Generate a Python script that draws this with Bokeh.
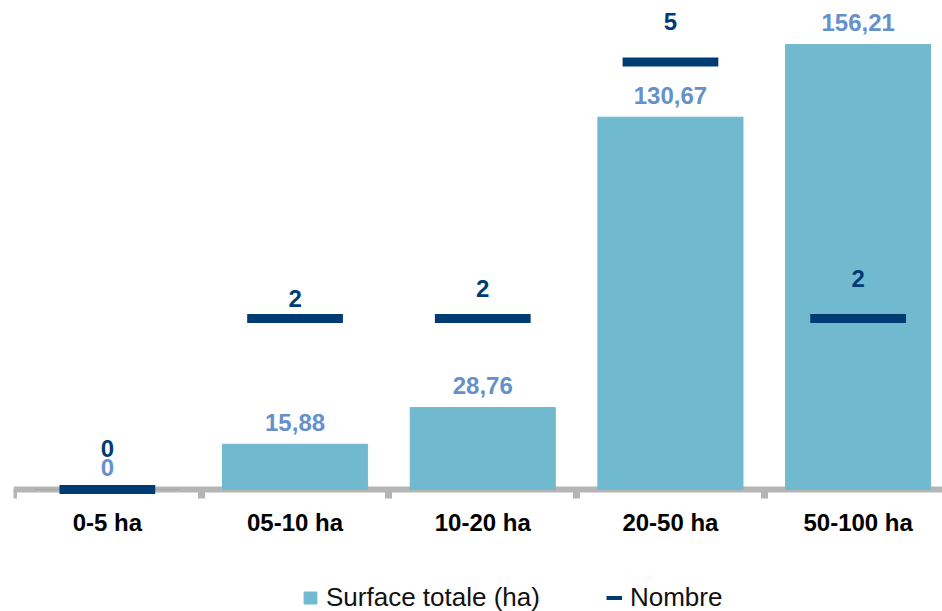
from bokeh.plotting import figure
from bokeh.models import (Range1d, FixedTicker, Legend, LegendItem, ColumnDataSource,
                          LinearAxis)
from bokeh.core.properties import value
from bokeh.embed import file_html
from bokeh.resources import INLINE

# ---- data ----
categories = ["0-5 ha", "05-10 ha", "10-20 ha", "20-50 ha", "50-100 ha"]
surface = [0, 15.88, 28.76, 130.67, 156.21]
surface_labels = ["0", "15,88", "28,76", "130,67", "156,21"]
nombre = [0, 2, 2, 5, 2]
nombre_labels = ["0", "2", "2", "5", "2"]
# label placement (pixels above the marker), as placed in the original
nombre_label_offsets = [32, 11.5, 21.5, 31.5, 31.5]

BAR = "#71b9cf"
BAR_TXT = "#6690cc"
NAVY = "#003b73"
AXIS = "#b5b5b5"
FONT = "Liberation Sans"
TXT_SHIFT = 9  # baseline compensation

W, H = 942, 611
ZERO_Y = 489          # pixel row of the zero line
PX_CAT = 187.7
PX_SURF = 2.849
PX_NB = 85.5
LEFT = 13

xs = [i + 0.5 for i in range(len(categories))]

p = figure(width=W, height=H, output_backend="svg", toolbar_location=None,
           x_range=Range1d(0, (W - LEFT) / PX_CAT),
           y_range=Range1d(-(H - ZERO_Y) / PX_SURF, ZERO_Y / PX_SURF),
           min_border_left=LEFT, min_border_right=0, min_border_top=0, min_border_bottom=0,
           x_axis_location=None, y_axis_location=None)
p.extra_y_ranges = {"nb": Range1d(-(H - ZERO_Y) / PX_NB, ZERO_Y / PX_NB)}
p.outline_line_color = None
p.xgrid.visible = False
p.ygrid.visible = False

src = ColumnDataSource(dict(
    x=xs, surface=surface, slab=surface_labels, nombre=nombre, nlab=nombre_labels,
    x0=[x - 0.255 for x in xs], x1=[x + 0.255 for x in xs],
    noff=[-(o + TXT_SHIFT) for o in nombre_label_offsets],
))

bars = p.vbar(x="x", top="surface", width=0.773, source=src, fill_color=BAR,
              line_color=BAR, line_width=1, level="overlay")
p.segment(x0="x0", x1="x1", y0="nombre", y1="nombre", y_range_name="nb", source=src,
          line_color=NAVY, line_width=9, line_cap="butt", level="overlay")
# legend swatch only (no visible data)
leg_line = p.line(x=[float("nan")], y=[float("nan")], line_color=NAVY, line_width=4)

p.text(x="x", y="surface", text="slab", source=src, text_align="center",
       text_baseline="alphabetic", y_offset=-(13 + TXT_SHIFT), text_color=BAR_TXT,
       text_font=value(FONT), text_font_style="bold", text_font_size="24px",
       level="overlay")
p.text(x="x", y="nombre", text="nlab", source=src, y_range_name="nb",
       text_align="center", text_baseline="alphabetic", y_offset="noff",
       text_color=NAVY, text_font=value(FONT), text_font_style="bold",
       text_font_size="24px", level="overlay")

ax = LinearAxis(fixed_location=0)
ax.ticker = FixedTicker(ticks=xs, minor_ticks=[0, 1, 2, 3, 4, 5])
ax.major_label_overrides = {x: c for x, c in zip(xs, categories)}
ax.axis_line_color = AXIS
ax.axis_line_width = 6
ax.major_tick_line_color = None
ax.major_tick_out = 0
ax.major_tick_in = 0
ax.minor_tick_line_color = AXIS
ax.minor_tick_line_width = 7
ax.minor_tick_out = 9
ax.minor_tick_in = 0
ax.major_label_standoff = 10
ax.major_label_text_font = FONT
ax.major_label_text_font_style = "bold"
ax.major_label_text_font_size = "24px"
ax.major_label_text_color = "#000000"
p.add_layout(ax, "below")

legend = Legend(items=[LegendItem(label="Surface totale (ha)", renderers=[bars]),
                       LegendItem(label="Nombre", renderers=[leg_line])],
                orientation="horizontal", location=(302 - LEFT, -2),
                glyph_width=16, glyph_height=15, label_standoff=8, spacing=66,
                padding=0, margin=0, border_line_color=None, background_fill_alpha=0,
                label_text_font=FONT, label_text_font_size="26px",
                label_text_color="#111111", label_height=26)
p.add_layout(legend, "center")

open("out.html", "w").write(file_html(p, INLINE))
